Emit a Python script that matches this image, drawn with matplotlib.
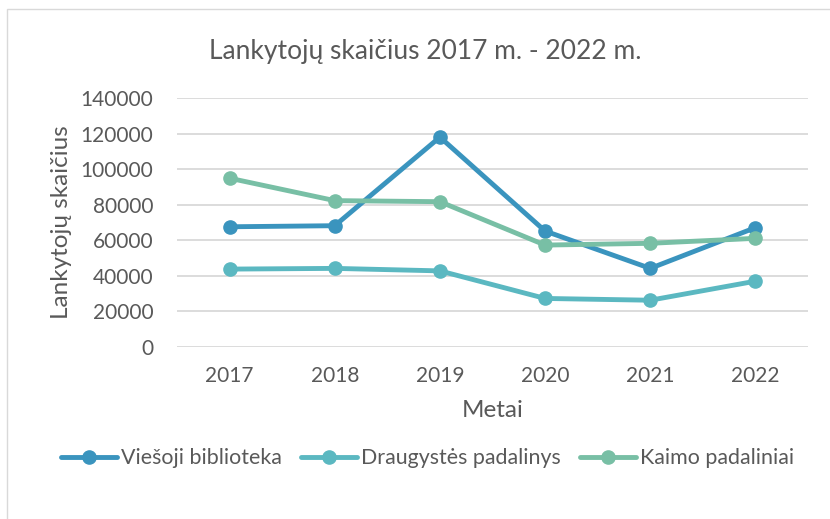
import matplotlib.pyplot as plt
from matplotlib.patches import Rectangle

years = ["2017", "2018", "2019", "2020", "2021", "2022"]
viesoji = [67600, 68200, 118000, 65200, 44200, 67100]
draugystes = [43800, 44200, 42800, 27300, 26300, 37000]
kaimo = [94900, 82300, 81700, 57300, 58300, 61100]

series = [
    ("Viešoji biblioteka", viesoji, "#3A94BE"),
    ("Draugystės padalinys", draugystes, "#5BB8C1"),
    ("Kaimo padaliniai", kaimo, "#78BFA5"),
]

plt.rcParams['font.family'] = ['Lato', 'DejaVu Sans']
txt = "#595959"

fig = plt.figure(figsize=(8.3, 5.19), dpi=100)
ax = fig.add_axes([177 / 830, 1 - 347 / 519, (808 - 177) / 830, (347 - 98) / 519])

x = list(range(len(years)))
for name, vals, col in series:
    ax.plot(x, vals, color=col, lw=3.5, marker="o", ms=9.5, label=name,
            solid_capstyle="round")

ax.set_ylim(0, 140000)
ax.set_yticks(range(0, 140001, 20000))
ax.set_xlim(-0.5, len(years) - 0.5)
ax.set_xticks(x)
ax.set_xticklabels(years)
ax.grid(axis="y", color="#D9D9D9", lw=1.3)
ax.set_axisbelow(True)
for s in ax.spines.values():
    s.set_visible(False)
ax.tick_params(length=0, labelsize=15, labelcolor=txt)
ax.tick_params(axis="y", pad=17)
ax.tick_params(axis="x", pad=14)

ax.set_xlabel("Metai", fontsize=17.5, color=txt, labelpad=10)
ax.set_ylabel("Lankytojų skaičius", fontsize=17.5, color=txt, labelpad=6)
fig.text(0.512, 1 - 52 / 519, "Lankytojų skaičius 2017 m. - 2022 m.",
         fontsize=19, color=txt, ha="center", va="center")

fig.legend(loc="center", bbox_to_anchor=(0.515, 1 - 458 / 519), ncol=3,
           frameon=False, fontsize=15.4, labelcolor=txt, handlelength=2.6,
           handletextpad=0.2, columnspacing=0.9)

fig.patches.append(Rectangle((7 / 830, -0.05), 1.1, 1 - 9 / 519 + 0.05,
                             transform=fig.transFigure, fill=False,
                             edgecolor="#D9D9D9", lw=1))

fig.savefig("out.png", dpi=100)
